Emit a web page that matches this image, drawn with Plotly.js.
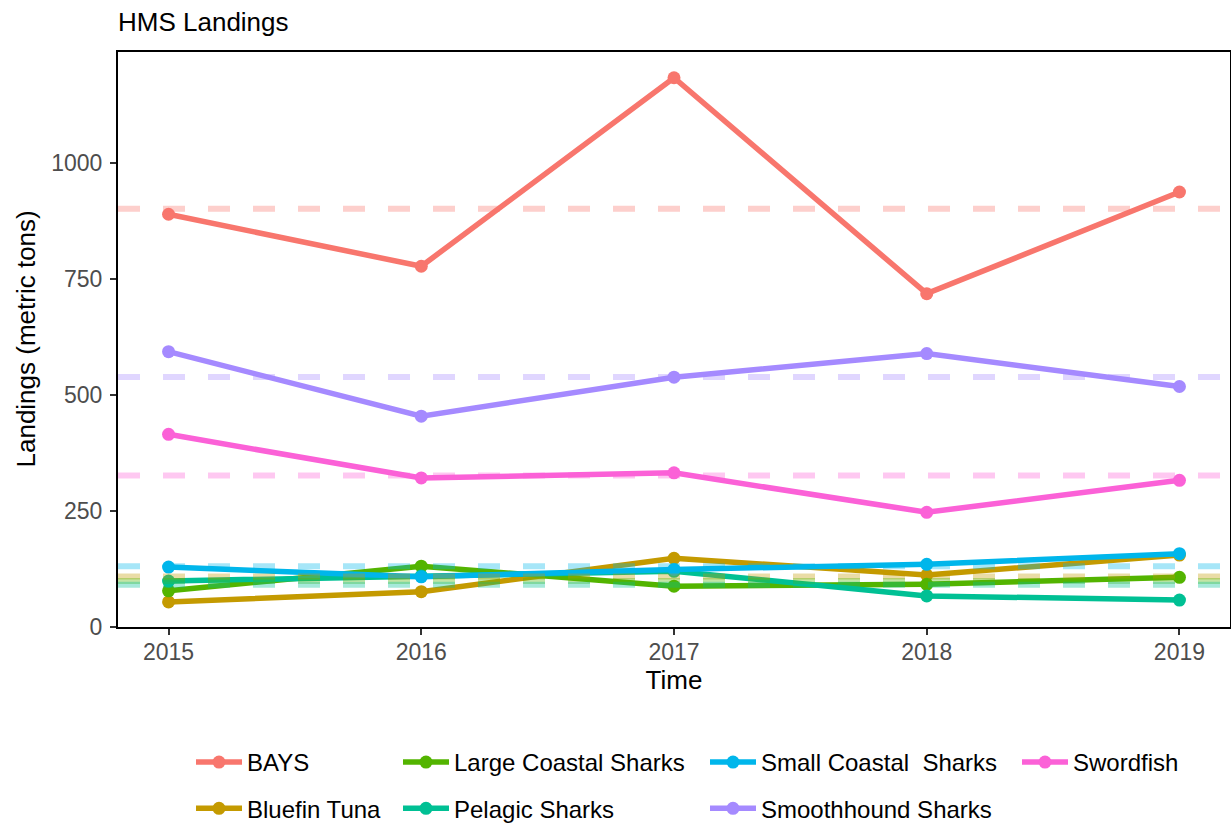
<!DOCTYPE html>
<html>
<head>
<meta charset="utf-8">
<script src="https://cdn.plot.ly/plotly-3.0.1.min.js"></script>
<style>html,body{margin:0;padding:0;background:#fff;}</style>
</head>
<body>
<div id="chart" style="width:1231px;height:826px;"></div>
<script>
const years = [2015, 2016, 2017, 2018, 2019];
const seriesNames = ['BAYS', 'Bluefin Tuna', 'Large Coastal Sharks', 'Pelagic Sharks', 'Small Coastal\u00a0 Sharks', 'Smoothhound Sharks', 'Swordfish'];
const bays = [889, 777, 1183, 718, 937];
const bluefinTuna = [54, 76, 148, 112, 155];
const largeCoastalSharks = [78, 131, 88, 92, 107];
const pelagicSharks = [99, 110, 120, 67, 58];
const smallCoastalSharks = [129, 108, 124, 135, 158];
const smoothhoundSharks = [593, 454, 538, 589, 518];
const swordfish = [415, 321, 332, 247, 316];
const yTicks = [0, 250, 500, 750, 1000];

const seriesValues = [bays, bluefinTuna, largeCoastalSharks, pelagicSharks, smallCoastalSharks, smoothhoundSharks, swordfish];
const colors = ['#F8766D', '#C49A00', '#53B400', '#00C094', '#00B6EB', '#A58AFF', '#FB61D7'];
const FONT = 'Liberation Sans, Arial, Helvetica, sans-serif';

function rgba(hex, a) {
  const r = parseInt(hex.slice(1, 3), 16), g = parseInt(hex.slice(3, 5), 16), b = parseInt(hex.slice(5, 7), 16);
  return `rgba(${r},${g},${b},${a})`;
}
const legendIds = ['legend', 'legend2', 'legend3', 'legend4'];

const traces = seriesNames.map((name, i) => ({
  type: 'scatter',
  mode: 'lines+markers',
  x: years,
  y: seriesValues[i],
  name: name,
  legend: legendIds[Math.floor(i / 2)],
  legendgroup: 'g' + i,
  line: {color: colors[i], width: 5.5},
  marker: {color: colors[i], size: 13},
  hoverinfo: 'x+y+name'
}));

const shapes = seriesValues.map((vals, i) => {
  const mean = vals.reduce((a, b) => a + b, 0) / vals.length;
  return {
    type: 'line', xref: 'paper', x0: 0, x1: 1, yref: 'y', y0: mean, y1: mean,
    line: {color: rgba(colors[i], 0.35), width: 6, dash: '22px,23px'},
    layer: 'above'
  };
});

const legendBase = {
  xref: 'container', yref: 'container', xanchor: 'left', yanchor: 'top',
  orientation: 'v', font: {family: FONT, size: 24, color: '#000'},
  bgcolor: 'rgba(0,0,0,0)', borderwidth: 0, tracegroupgap: 12, itemwidth: 46,
  traceorder: 'grouped', y: 1 - 740 / 826
};
const legendX = [191, 398, 705, 1017];

const layout = {
  width: 1231, height: 826,
  margin: {l: 118, r: 1, t: 52, b: 199, autoexpand: false},
  paper_bgcolor: '#fff', plot_bgcolor: '#fff',
  font: {family: FONT, color: '#000'},
  title: {text: 'HMS Landings', xref: 'container', x: 118 / 1231, xanchor: 'left',
          yref: 'container', y: 1 - 22 / 826, yanchor: 'middle',
          font: {family: FONT, size: 26, color: '#000'}},
  xaxis: {
    range: [2014.8, 2019.2], tickvals: years, ticktext: years.map(String),
    showgrid: false, zeroline: false, automargin: true,
    showline: true, mirror: true, linecolor: '#000', linewidth: 2,
    ticks: 'outside', ticklen: 6, tickwidth: 2, tickcolor: '#333',
    ticklabelstandoff: -3,
    tickfont: {family: FONT, size: 23, color: '#4d4d4d'},
    title: {text: 'Time', font: {family: FONT, size: 26, color: '#000'}, standoff: 4}
  },
  yaxis: {
    range: [0, 1238.5], tickvals: yTicks, ticktext: yTicks.map(String),
    showgrid: false, zeroline: false, automargin: true,
    showline: true, mirror: true, linecolor: '#000', linewidth: 2,
    ticks: 'outside', ticklen: 6, tickwidth: 2, tickcolor: '#333',
    ticklabelstandoff: 3,
    tickfont: {family: FONT, size: 23, color: '#4d4d4d'}
  },
  annotations: [{
    text: 'Landings (metric tons)', xref: 'paper', yref: 'paper',
    x: (25 - 118) / 1112, y: 0.5, xanchor: 'center', yanchor: 'middle',
    textangle: -90, showarrow: false,
    font: {family: FONT, size: 26, color: '#000'}
  }],
  shapes: shapes,
  showlegend: true
};
legendIds.forEach((id, k) => { layout[id] = Object.assign({}, legendBase, {x: legendX[k] / 1231}); });

Plotly.newPlot('chart', traces, layout, {displayModeBar: false, staticPlot: true});
</script>
</body>
</html>
